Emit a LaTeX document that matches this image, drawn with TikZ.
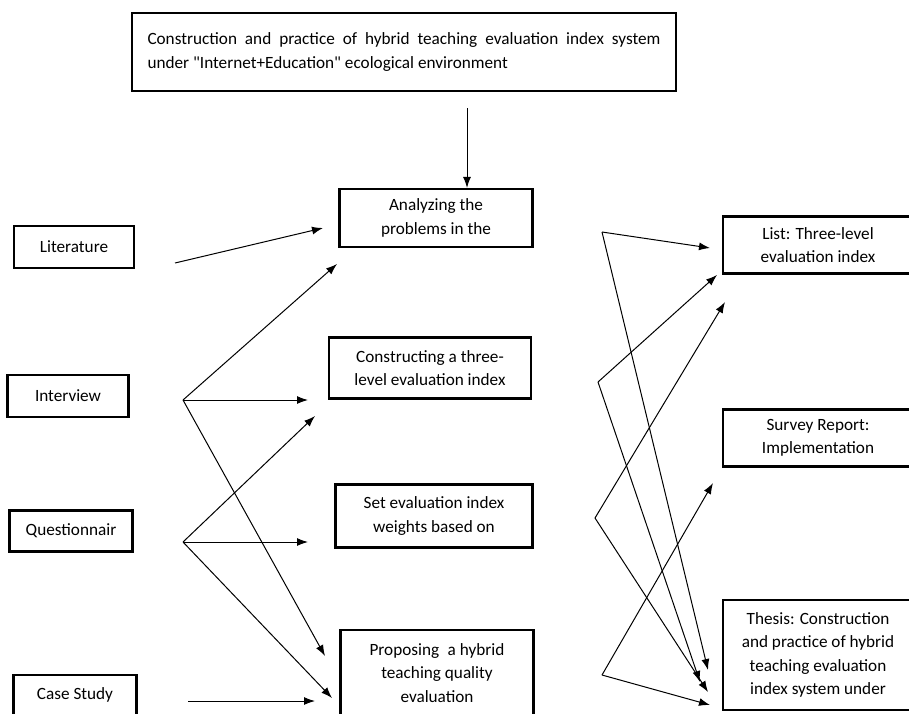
\documentclass[tikz,border=0pt]{standalone}
\usepackage{fontspec}
\newfontfamily\carlito{Carlito}
\usetikzlibrary{arrows.meta}

\begin{document}
\begin{tikzpicture}[x=1pt, y=-1pt,
        box/.style={draw, line width=2.2pt, align=center, inner sep=0pt,
            font=\carlito\fontsize{17.2}{23.5}\selectfont},
        link/.style={line width=1pt, -{Latex[length=11pt,width=8pt]}}]
    \clip (0,0) rectangle (909,713);
    % title
    \node[box, minimum width=544pt, minimum height=78pt, text width=513pt, align=justify] (title) at (404,52)
        {Construction and practice of hybrid teaching evaluation index system\linebreak under "Internet+Education" ecological environment};
    % methods
    \node[box, minimum width=120pt, minimum height=42pt] (lit) at (74,247) {Literature};
    \node[box, minimum width=121pt, minimum height=42pt] (inter) at (68,396) {Interview};
    \node[box, minimum width=123pt, minimum height=41pt] (quest) at (71,531) {Questionnair};
    \node[box, minimum width=123pt, minimum height=40pt] (case) at (75,695) {Case Study};
    % steps
    \node[box, minimum width=193pt, minimum height=58pt] (ana) at (436,218) {Analyzing the\\problems in the};
    \node[box, minimum width=202pt, minimum height=61pt] (cons) at (430,368) {Constructing a three-\\level evaluation index};
    \node[box, minimum width=197pt, minimum height=63pt] (weights) at (434,516) {Set evaluation index\\weights based on};
    \node[box, minimum width=193pt, minimum height=86pt] (prop) at (437,673) {Proposing\enspace a hybrid\\teaching quality\\evaluation};
    % results
    \node[box, minimum width=190pt, minimum height=57pt] (list) at (818,245) {List: Three-level\\evaluation index};
    \node[box, minimum width=190pt, minimum height=57pt] (survey) at (818,438) {Survey Report:\\Implementation};
    \node[box, minimum width=190pt, minimum height=110pt] (thesis) at (818,655) {Thesis: Construction\\and practice of hybrid\\teaching evaluation\\index system under};

    \coordinate (titleout) at (467,108);
    \draw[link] (titleout) -- (titleout |- ana.north);

    % left side
    \coordinate (litout) at (175,263);
    \coordinate (anain) at (323,228);
    \coordinate (interfork) at (183,400);
    \coordinate (anabelow) at (337,264);
    \coordinate (consin) at (308,400);
    \coordinate (propin1) at (325,656);
    \coordinate (questfork) at (183,542);
    \coordinate (consbelow) at (315,416);
    \coordinate (weightsin) at (308,542);
    \coordinate (propin2) at (332,698);
    \coordinate (caseout) at (188,701);
    \coordinate (propin3) at (315,701);
    \draw[link] (litout) -- (anain);
    \draw[link] (interfork) -- (anabelow);
    \draw[link] (interfork) -- (consin);
    \draw[link] (interfork) -- (propin1);
    \draw[link] (questfork) -- (consbelow);
    \draw[link] (questfork) -- (weightsin);
    \draw[link] (questfork) -- (propin2);
    \draw[link] (caseout) -- (propin3);

    % right side
    \coordinate (anaout) at (602,232);
    \coordinate (consout) at (598,382);
    \coordinate (weightsout) at (595,518);
    \coordinate (propout) at (602,675);
    \coordinate (listin1) at (710,248);
    \coordinate (listin2) at (717,275);
    \coordinate (listin3) at (725,302);
    \coordinate (surveyin) at (713,483);
    \coordinate (thesisin1) at (708,670);
    \coordinate (thesisin2) at (700,682);
    \coordinate (thesisin3) at (708,692);
    \coordinate (thesisin4) at (710,705);
    \draw[link] (anaout) -- (listin1);
    \draw[link] (anaout) -- (thesisin1);
    \draw[link] (consout) -- (listin2);
    \draw[link] (consout) -- (thesisin2);
    \draw[link] (weightsout) -- (listin3);
    \draw[link] (weightsout) -- (thesisin3);
    \draw[link] (propout) -- (surveyin);
    \draw[link] (propout) -- (thesisin4);
\end{tikzpicture}
\end{document}
